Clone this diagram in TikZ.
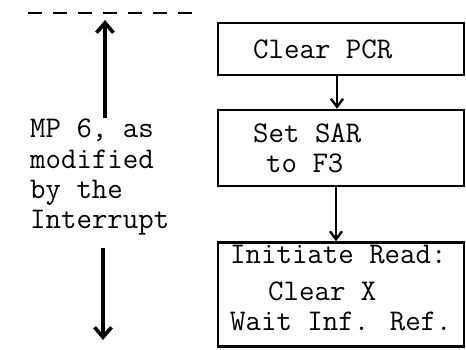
\documentclass[tikz,border=0pt]{standalone}
\usetikzlibrary{arrows.meta}
\begin{document}
\begin{tikzpicture}[x=1pt,y=-1pt,
  box/.style={draw,line width=2.4pt,rectangle,inner sep=0pt},
  txt/.style={inner sep=0pt,anchor=base west,font=\fontsize{30}{32}\ttfamily},
  arr/.style={line width=2.4pt,-{Straight Barb[length=8pt,width=12pt,line width=2.4pt]}},
  bigarr/.style={line width=3.6pt,-{Straight Barb[length=10pt,width=17pt,line width=3.6pt]}}]
\useasboundingbox (0,0) rectangle (466,350);
% dashed line
\coordinate (d1) at (28,13);
\coordinate (d2) at (202,13);
\draw[line width=2.6pt,dash pattern=on 14pt off 11pt] (d1) -- (d2);
% left arrows
\coordinate (u1) at (105,118);
\coordinate (u2) at (105,20);
\draw[bigarr] (u1) -- (u2);
\coordinate (w1) at (103,248);
\coordinate (w2) at (103,340);
\draw[bigarr] (w1) -- (w2);
% left text
\node[txt] (l1) at (30,138) {MP 6, as};
\node[txt] (l2) at (30,168) {modified};
\node[txt] (l3) at (30,198) {by the};
\node[txt] (l4) at (30,228) {Interrupt};
% boxes
\node[box,minimum width=246pt,minimum height=52pt] (b1) at (341,49) {};
\node[box,minimum width=246pt,minimum height=76pt] (b2) at (341,148) {};
\node[box,minimum width=246pt,minimum height=104pt] (b3) at (341,294.5) {};
\node[txt] (t1) at (253,59) {Clear PCR};
\node[txt] (t2) at (253,143) {Set SAR};
\node[txt] (t3) at (266,172) {to F3};
\node[txt] (t4) at (230,263) {Initiate Read:};
\node[txt] (t5) at (268,300) {Clear X};
\node[txt] (t6) at (230,330) {Wait Inf. Ref.};
% connectors
\draw[arr] ([xshift=-4pt]b1.south) -- ([xshift=-4pt]b2.north);
\draw[arr] ([xshift=-5pt]b2.south) -- ([xshift=-5pt]b3.north);
\end{tikzpicture}
\end{document}
